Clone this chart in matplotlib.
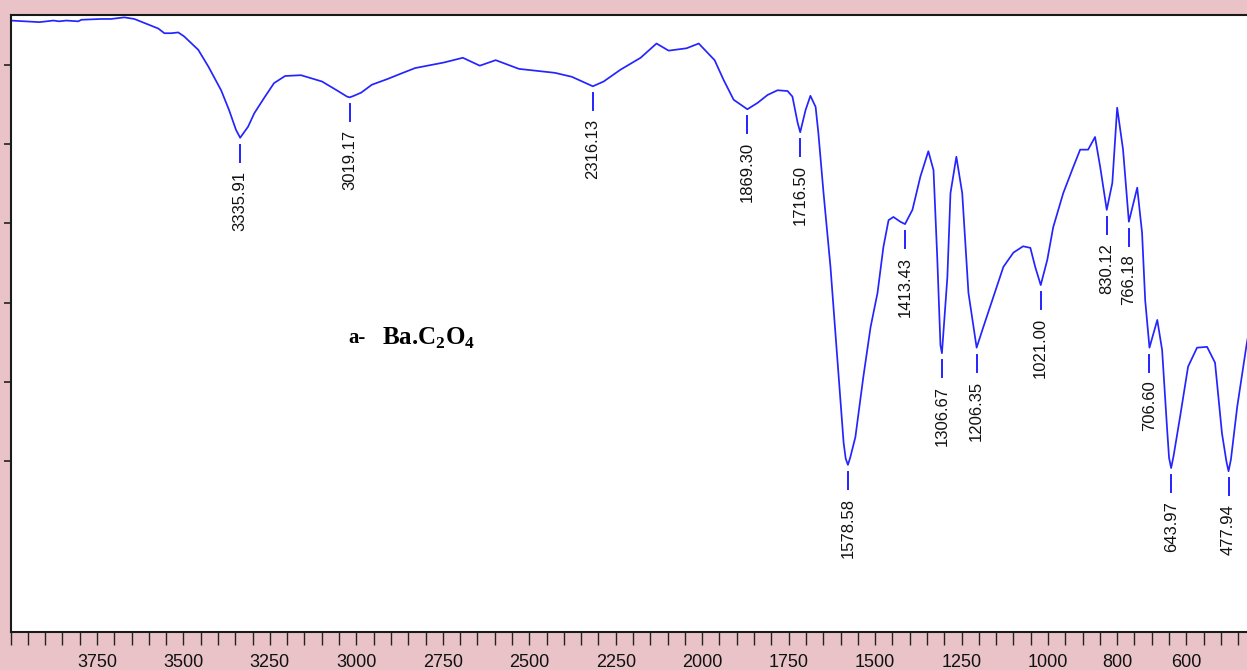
import numpy as np
import matplotlib
matplotlib.use("Agg")
import matplotlib.pyplot as plt

plt.rcParams["mathtext.fontset"] = "custom"
plt.rcParams["mathtext.rm"] = "Liberation Serif:bold"
plt.rcParams["mathtext.bf"] = "Liberation Serif:bold"

# FT-IR spectrum of barium oxalate (transmittance vs. wavenumber)
wavenumber = [4000, 3916, 3876, 3859, 3839, 3804, 3795, 3737, 3709, 3671, 3642, 3613,
              3573, 3555, 3535, 3515, 3498, 3457, 3428, 3391, 3368, 3348, 3335.91, 3313,
              3295, 3267, 3238, 3206, 3160, 3122, 3099, 3053, 3027, 3019.17, 3007, 2986,
              2955, 2911, 2871, 2830, 2747, 2692, 2643, 2597, 2530, 2426, 2377, 2316.13,
              2285, 2236, 2178, 2132, 2097, 2045, 2010, 1964, 1938, 1909, 1869.30, 1840,
              1811, 1782, 1753, 1739, 1724, 1716.50, 1701, 1687, 1672, 1664, 1649, 1629,
              1609, 1591, 1585, 1578.58, 1572, 1557, 1534, 1513, 1493, 1476, 1461, 1447,
              1427, 1413.43, 1392, 1369, 1346, 1331, 1320, 1311, 1306.67, 1291, 1282, 1265,
              1248, 1230, 1206.35, 1187, 1158, 1129, 1100, 1072, 1051, 1037, 1021.00, 1002,
              985, 956, 927, 907, 884, 864, 849, 830.12, 814, 800, 783, 766.18, 742, 728,
              719, 706.60, 684, 670, 656, 650, 643.97, 637, 618, 595, 569, 540, 517, 497,
              484, 477.94, 471, 453, 425, 410, 400]

transmittance = [65.6, 65.4, 65.6, 65.5, 65.6, 65.5, 65.7, 65.8, 65.8, 66.0, 65.8, 65.3,
                 64.6, 64.0, 64.0, 64.1, 63.6, 61.9, 59.8, 56.8, 54.3, 51.8, 50.8, 52.2,
                 53.9, 55.8, 57.7, 58.6, 58.7, 58.2, 57.9, 56.7, 56.0, 55.9, 56.1, 56.5,
                 57.5, 58.2, 58.9, 59.6, 60.3, 60.9, 59.9, 60.6, 59.5, 59.0, 58.5, 57.3,
                 57.9, 59.4, 60.9, 62.7, 61.8, 62.1, 62.7, 60.6, 58.1, 55.6, 54.4, 55.2,
                 56.2, 56.8, 56.7, 56.0, 52.7, 51.5, 54.3, 56.1, 54.7, 51.4, 43.8, 34.5,
                 22.8, 12.3, 10.3, 9.5, 10.4, 13.0, 20.6, 26.9, 31.2, 37.0, 40.4, 40.8,
                 40.2, 39.9, 41.7, 45.9, 49.1, 46.7, 35.4, 24.6, 23.6, 33.2, 43.8, 48.4,
                 43.8, 31.2, 24.3, 26.9, 30.7, 34.5, 36.3, 37.1, 36.9, 34.5, 32.2, 35.4,
                 39.5, 43.8, 47.1, 49.3, 49.3, 50.9, 47.1, 41.7, 45.1, 54.6, 49.3, 40.2,
                 44.5, 38.8, 30.3, 24.3, 27.8, 24.0, 14.3, 10.4, 9.1, 10.6, 15.6, 21.9,
                 24.3, 24.4, 22.4, 13.5, 9.9, 8.7, 10.2, 16.8, 24.9, 28.4, 31.6]

# Labelled absorption bands
peaks = [3335.91, 3019.17, 2316.13, 1869.30, 1716.50, 1578.58, 1413.43, 1306.67,
         1206.35, 1021.00, 830.12, 766.18, 706.60, 643.97, 477.94]

# Axis ticks
x_minor = list(range(400, 4001, 50))
x_labelled = [3750, 3500, 3250, 3000, 2750, 2500, 2250, 2000, 1750, 1500, 1250, 1000, 800, 600]
y_ticks = [10, 20, 30, 40, 50, 60]

W, H = 1247, 670
fig = plt.figure(figsize=(W / 100, H / 100), dpi=100, facecolor="#e9c3c7")
ax = fig.add_axes([10.5 / W, 38 / H, 1245 / W, 617 / H])
ax.set_facecolor("white")

wn = np.array(wavenumber)
tr = np.array(transmittance)
ax.plot(wn, tr, color="#2424ff", lw=1.25, solid_joinstyle="round")

ax.set_xlim(4000, 400)
ax.set_ylim(-11.6, 66.3)

# band markers and labels
px_per_unit = 617 / (66.3 + 11.6)
gap, tick_len, text_gap = 7 / px_per_unit, 17 / px_per_unit, 9 / px_per_unit
order = np.argsort(wn)
for p in peaks:
    t = np.interp(p, wn[order], tr[order])
    top = t - gap
    bot = top - tick_len
    ax.plot([p, p], [top, bot], color="#2424ff", lw=1.4)
    ax.text(p, bot - text_gap, f"{p:.2f}", rotation=90, ha="center", va="top",
            fontsize=12, family="Liberation Sans", color="#111111")

# sample caption
ax.text(3024, 25.5, "a-", fontsize=15, fontweight="bold", family="Liberation Serif",
        ha="left", va="center")
ax.text(2926, 25.5, r"Ba.C$_\mathbf{2}$O$_\mathbf{4}$", fontsize=18, fontweight="bold",
        family="Liberation Serif", ha="left", va="center")

ax.set_xticks(x_minor)
ax.set_xticklabels([str(v) if v in x_labelled else "" for v in x_minor],
                   fontsize=13, family="Liberation Sans", color="#111111")
ax.tick_params(axis="x", direction="out", length=9, width=1, pad=7, colors="#222222",
               labelcolor="#111111")
ax.set_yticks(y_ticks)
ax.set_yticklabels([])
ax.tick_params(axis="y", direction="out", length=5, width=1.2, colors="#222222")

for s in ax.spines.values():
    s.set_color("#1a1a1a")
    s.set_linewidth(1.5)

fig.savefig("out.png", dpi=100, facecolor=fig.get_facecolor())
